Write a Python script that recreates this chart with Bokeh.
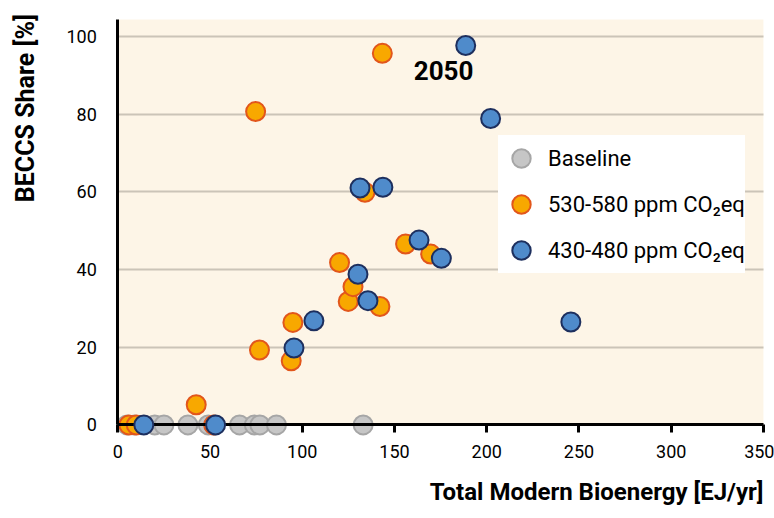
import math
from bokeh.plotting import figure
from bokeh.models import Range1d, FixedTicker, BoxAnnotation, Legend, LegendItem, Title, Label
from bokeh.embed import file_html
from bokeh.resources import INLINE

# ---------------- data ----------------
baseline_x = [5, 9, 20, 25, 38, 49, 52, 66, 74, 77, 86, 133]
baseline_y = [0, 0, 0, 0, 0, 0, 0, 0, 0, 0, 0, 0]

ppm550_x = [6, 10, 52, 42.5, 74.7, 76.8, 94.0, 94.9, 120.2, 124.9, 127.5, 142.1, 134.0, 143.4, 156.0, 169.6]
ppm550_y = [0, 0, 0, 5.2, 80.7, 19.3, 16.5, 26.4, 41.8, 31.8, 35.6, 30.5, 59.9, 95.7, 46.6, 44.0]

ppm450_x = [14.1, 53.0, 95.5, 106.3, 130.2, 135.6, 131.3, 143.7, 163.3, 175.4, 188.6, 202.1, 245.6]
ppm450_y = [0, 0, 19.8, 26.8, 38.8, 32.0, 61.0, 61.2, 47.6, 42.9, 97.7, 78.9, 26.5]

x_ticks = [0, 50, 100, 150, 200, 250, 300, 350]
y_ticks = [0, 20, 40, 60, 80, 100]
series_labels = ["Baseline", "530-580 ppm CO\u2082eq", "430-480 ppm CO\u2082eq"]
x_title = "Total Modern Bioenergy [EJ/yr]"
y_title = "BECCS Share [%]"
annotation_text = "2050"
annotation_x = 176.6
annotation_y = 91.2

X_MAX = 350
Y_MAX = 104.4
Y_TITLE_X = -50      # data position of the rotated y-axis title (left of the axis)
Y_TITLE_TOP = 105.8

FONT = "Roboto"
CREAM = "#fdf5e7"

p = figure(width=774, height=518, x_range=Range1d(-63.6, 356), y_range=Range1d(-12, 109.3),
           output_backend="svg", toolbar_location=None,
           min_border_left=0, min_border_right=0, min_border_top=0, min_border_bottom=47)
p.outline_line_color = None
p.background_fill_color = "white"
p.border_fill_color = "white"

p.add_layout(BoxAnnotation(left=0, right=X_MAX, bottom=0, top=Y_MAX,
                           fill_color=CREAM, fill_alpha=1,
                           line_color=None, level="image"))

p.xgrid.visible = False
p.ygrid.ticker = FixedTicker(ticks=[20, 40, 60, 80, 100])
p.ygrid.grid_line_color = "#cbc4b8"
p.ygrid.grid_line_width = 2
g = p.ygrid[0]
if "cross_bounds" in g.properties():
    g.cross_bounds = (0, X_MAX)

for ax in (p.xaxis[0], p.yaxis[0]):
    ax.fixed_location = 0
    ax.axis_line_color = "black"
    ax.axis_line_width = 3
    ax.major_label_text_font = FONT
    ax.major_label_text_font_size = "18px"
    ax.major_label_text_color = "black"
    ax.minor_tick_line_color = None

p.xaxis.ticker = FixedTicker(ticks=x_ticks)
p.xaxis.bounds = (0, X_MAX)
p.xaxis.major_tick_line_color = "black"
p.xaxis.major_tick_line_width = 3
p.xaxis.major_tick_out = 8
p.xaxis.major_tick_in = 0
p.xaxis.major_label_standoff = 12

p.yaxis.ticker = FixedTicker(ticks=y_ticks)
p.yaxis.bounds = (0, Y_MAX)
p.yaxis.major_tick_line_color = None
p.yaxis.major_tick_out = 0
p.yaxis.major_tick_in = 0
p.yaxis.major_label_standoff = 21

r_base = p.scatter(baseline_x, baseline_y, size=19, fill_color="#c6c6c6",
                   line_color="#a6a6a6", line_width=2)
r_550 = p.scatter(ppm550_x, ppm550_y, size=19, fill_color="#f8a800",
                  line_color="#e2561b", line_width=2)
r_450 = p.scatter(ppm450_x, ppm450_y, size=19, fill_color="#4f8bcb",
                  line_color="#1d2f5e", line_width=2, level="overlay")

p.add_layout(Label(x=annotation_x, y=annotation_y, text=annotation_text,
                   text_align="center", text_baseline="middle",
                   text_font=FONT, text_font_size="26px", text_font_style="bold",
                   text_color="black"))

legend = Legend(items=[LegendItem(label=series_labels[0], renderers=[r_base]),
                       LegendItem(label=series_labels[1], renderers=[r_550]),
                       LegendItem(label=series_labels[2], renderers=[r_450])],
                location=(498, 198), glyph_width=46, glyph_height=46,
                label_standoff=4, padding=9, spacing=0, margin=0,
                border_line_color=None, background_fill_color="white",
                background_fill_alpha=1,
                label_text_font=FONT, label_text_font_size="22px",
                label_text_color="black")
p.add_layout(legend)

p.add_layout(Title(text=x_title, align="right", standoff=9, offset=11,
                   text_font=FONT, text_font_size="24px", text_font_style="bold",
                   text_color="black"), "below")
p.add_layout(Label(x=Y_TITLE_X, y=Y_TITLE_TOP, text=y_title, angle=math.pi / 2,
                   text_align="right", text_baseline="middle",
                   text_font=FONT, text_font_size="25px", text_font_style="bold",
                   text_color="black"))

open("out.html", "w").write(file_html(p, INLINE))
